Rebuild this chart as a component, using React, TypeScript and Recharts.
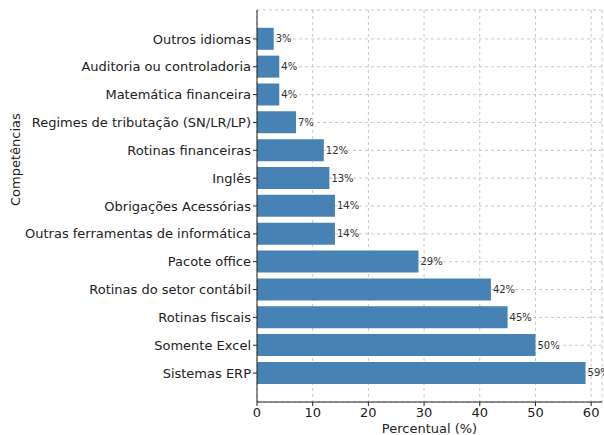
import { BarChart, Bar, XAxis, YAxis, CartesianGrid, LabelList } from 'recharts';

const competencias = [
  'Outros idiomas',
  'Auditoria ou controladoria',
  'Matemática financeira',
  'Regimes de tributação (SN/LR/LP)',
  'Rotinas financeiras',
  'Inglês',
  'Obrigações Acessórias',
  'Outras ferramentas de informática',
  'Pacote office',
  'Rotinas do setor contábil',
  'Rotinas fiscais',
  'Somente Excel',
  'Sistemas ERP',
];
const percentuais = [3, 4, 4, 7, 12, 13, 14, 14, 29, 42, 45, 50, 59];
const xTicks = [0, 10, 20, 30, 40, 50, 60];

const data = competencias.map((nome, i) => ({ nome, valor: percentuais[i] }));

const FONT = '"DejaVu Sans", sans-serif';
const BAR_FILL = '#4682B4';

export default function App() {
  return (
    <div style={{ position: 'absolute', left: 0, top: 0, fontFamily: FONT }}>
      <BarChart
        width={604}
        height={435}
        data={data}
        layout="vertical"
        margin={{ top: 10, right: 2, left: 0, bottom: 0 }}
        barCategoryGap="10%"
      >
        <XAxis
          type="number"
          domain={[0, 61.95]}
          ticks={xTicks}
          allowDataOverflow
          height={33}
          tick={{ fontSize: 13, fill: '#222', fontFamily: FONT }}
          tickLine={{ stroke: '#222' }}
          tickSize={4}
          axisLine={{ stroke: '#222' }}
          label={{ value: 'Percentual (%)', position: 'insideBottom', offset: 2, fontSize: 13, fill: '#222', fontFamily: FONT }}
        />
        <YAxis
          type="category"
          dataKey="nome"
          width={257}
          padding={{ top: 15, bottom: 15 }}
          interval={0}
          tick={{ fontSize: 13, fill: '#222', fontFamily: FONT }}
          tickLine={{ stroke: '#222' }}
          tickSize={4}
          axisLine={{ stroke: '#222' }}
          label={{ value: 'Competências', angle: -90, position: 'insideLeft', offset: 15, fontSize: 13, fill: '#222', fontFamily: FONT }}
        />
        <Bar dataKey="valor" fill={BAR_FILL} isAnimationActive={false}>
          <LabelList
            dataKey="valor"
            position="right"
            offset={2}
            formatter={(v: number) => `${v}%`}
            style={{ fontSize: 10, fill: '#333', fontFamily: FONT }}
          />
        </Bar>
        <CartesianGrid strokeDasharray="3 3" stroke="#c8c8c8" />
      </BarChart>
    </div>
  );
}
